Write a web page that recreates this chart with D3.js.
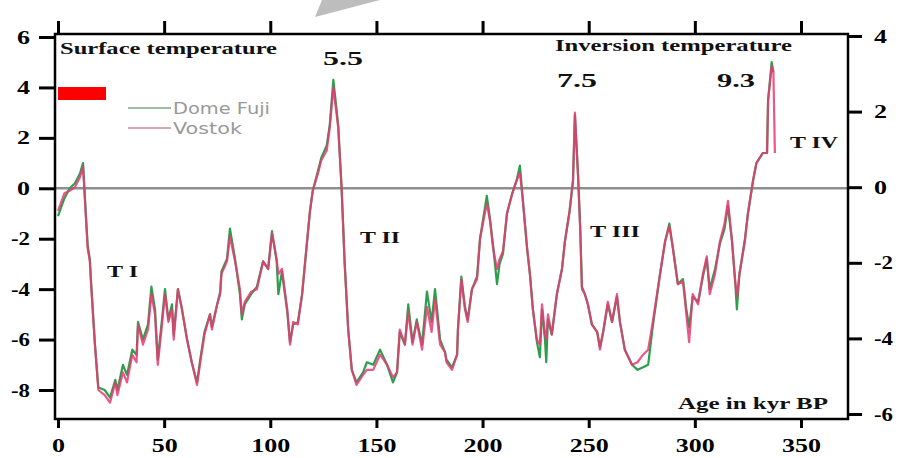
<!DOCTYPE html>
<html>
<head>
<meta charset="utf-8">
<script src="https://cdn.jsdelivr.net/npm/d3@7"></script>
<style>
  body { margin: 0; background: #fff; }
</style>
</head>
<body>
<div id="chart"></div>
<script>
// age in kyr BP, shared by both records
const ages = [0, 3, 5.5, 8, 10.4, 11.8, 12.7, 14, 15, 15.5, 17.4, 19, 22, 24.5, 27, 28, 30.6, 32.5, 35, 37,
  37.7, 40, 42.4, 44, 45.7, 47, 49, 50.4, 52, 53.7, 54.5, 56.5, 58.4, 60.8, 63, 65.5, 67, 69, 71.6, 72.5,
  75, 76.4, 77, 79.6, 81, 83.4, 85.7, 86.6, 88, 91, 93.7, 96.6, 99, 100.8, 103, 103.8, 105.5, 108, 109.3, 110.8,
  113, 115, 117, 118.7, 120, 122.5, 124, 126.6, 128, 129.7, 131, 132, 133.6, 135, 136.7, 138.4, 140.6, 143.7, 145.5, 148.5,
  151.7, 155, 157.8, 159.7, 161, 163.4, 165, 167, 169, 171.5, 173.8, 176, 177.6, 180, 182.3, 183, 185.6, 188, 188.4, 190,
  191.7, 193, 195, 197.4, 198.8, 202, 203.5, 205, 206.8, 208, 209.6, 211.5, 214, 216, 217.6, 219, 221, 222.3, 223.7, 225.6,
  227, 228, 229.4, 230, 230.8, 232.6, 235, 237.4, 238.8, 241, 242.6, 243.5, 245, 246, 246.8, 248.2, 249.6, 251.5, 254, 255.3,
  256.8, 259, 261, 263.3, 264.7, 267, 270.4, 273, 275.6, 278, 280, 283.6, 286, 288, 289.7, 292, 294.4, 296, 297.3, 299,
  301.5, 303.8, 305.6, 307, 309.5, 311.8, 314, 315.6, 317.5, 319, 319.8, 321, 323.6, 325, 327.4, 329, 332, 334, 334.5, 336.2,
  337, 337.7];

const vostok = [-0.9, -0.2, -0.1, 0.05, 0.45, 0.85, -0.5, -2.4, -2.9, -3.7, -6.2, -8.0, -8.2, -8.5, -7.7, -8.2, -7.3, -7.7, -6.6, -6.9,
  -5.4, -6.2, -5.6, -4.2, -5.0, -7.0, -5.4, -4.2, -5.3, -4.8, -6.0, -4.0, -4.8, -6.0, -6.9, -7.8, -6.9, -5.8, -5.0, -5.6,
  -4.6, -4.2, -3.4, -2.9, -1.9, -2.9, -4.0, -5.0, -4.5, -4.1, -4.0, -2.9, -3.2, -1.8, -2.8, -3.4, -3.2, -4.8, -6.2, -5.3,
  -5.4, -4.2, -2.4, -0.9, -0.1, 0.6, 1.1, 1.5, 2.4, 4.0, 3.1, 2.4, 0.0, -2.9, -5.6, -7.2, -7.8, -7.4, -7.2, -7.2,
  -6.6, -7.0, -7.5, -7.3, -5.6, -6.2, -4.9, -6.2, -5.3, -6.4, -4.7, -5.7, -4.4, -6.2, -6.5, -6.9, -7.2, -6.6, -5.6, -3.6,
  -4.8, -5.3, -4.0, -3.6, -2.0, -0.6, -1.3, -2.4, -3.2, -2.8, -2.5, -1.0, -0.2, 0.3, 0.6, -0.5, -2.4, -3.4, -4.8, -6.0,
  -6.2, -4.6, -5.8, -6.0, -5.0, -5.8, -4.2, -3.2, -2.1, -0.9, 0.3, 3.0, 0.45, -1.6, -4.0, -4.2, -4.6, -5.4, -5.7, -6.4,
  -5.7, -4.5, -5.3, -4.2, -5.3, -6.4, -7.0, -6.9, -6.6, -6.4, -5.4, -3.4, -2.1, -1.5, -2.4, -3.8, -3.7, -5.0, -6.1, -4.2,
  -4.6, -3.4, -2.7, -4.2, -3.4, -2.1, -1.4, -0.5, -2.1, -3.7, -4.3, -3.4, -2.1, -1.0, 0.3, 1.0, 1.4, 1.4, 3.5, 4.85,
  4.6, 1.4];

const domeFuji = [-1.1, -0.4, 0.0, 0.2, 0.6, 1.0, -0.4, -2.3, -2.8, -3.6, -6.2, -7.9, -8.0, -8.3, -7.6, -8.0, -7.0, -7.4, -6.4, -6.6,
  -5.3, -6.0, -5.4, -3.9, -4.8, -6.8, -5.2, -4.0, -5.2, -4.6, -5.8, -4.0, -4.8, -6.0, -6.9, -7.7, -6.8, -5.7, -5.0, -5.5,
  -4.6, -4.1, -3.3, -2.8, -1.6, -2.8, -4.2, -5.2, -4.6, -4.2, -3.9, -2.9, -3.2, -1.7, -2.9, -4.2, -3.3, -4.9, -6.1, -5.4,
  -5.3, -4.2, -2.4, -0.9, -0.1, 0.7, 1.2, 1.7, 2.5, 4.3, 3.3, 2.5, 0.0, -2.9, -5.6, -7.2, -7.7, -7.3, -6.9, -7.0,
  -6.4, -7.0, -7.7, -7.3, -5.7, -6.2, -4.6, -6.1, -5.2, -6.2, -4.1, -5.3, -4.0, -6.0, -6.5, -6.8, -7.1, -6.6, -5.6, -3.5,
  -4.7, -5.2, -4.0, -3.5, -2.0, -0.3, -1.2, -2.3, -3.8, -3.0, -2.6, -1.0, -0.2, 0.3, 0.9, -0.5, -2.4, -3.4, -4.8, -6.1,
  -6.7, -4.8, -6.0, -6.9, -5.2, -5.8, -4.2, -3.2, -2.1, -0.9, 0.3, 2.9, 0.5, -1.6, -3.9, -4.2, -4.6, -5.4, -5.7, -6.3,
  -5.7, -4.6, -5.3, -4.3, -5.3, -6.4, -7.0, -7.2, -7.1, -7.0, -5.6, -3.4, -2.1, -1.4, -2.4, -3.8, -3.6, -4.8, -5.5, -4.3,
  -4.5, -3.5, -2.8, -4.0, -3.2, -2.2, -1.6, -0.7, -2.1, -3.7, -4.8, -3.4, -2.0, -1.0, 0.3, 1.0, 1.4, 1.4, 3.5, 5.0,
  4.6, null];

const seriesNames = ["Dome Fuji", "Vostok"];
const seriesColors = ["#2f9e4c", "#e63a74"];

const ageTicks = [0, 50, 100, 150, 200, 250, 300, 350];
const surfaceTicks = [-8, -6, -4, -2, 0, 2, 4, 6];
const inversionTicks = [-6, -4, -2, 0, 2, 4];

const width = 904, height = 458;
const serif = "'Liberation Serif', 'Times New Roman', serif";

const svg = d3.select("#chart")
  .append("svg")
    .attr("width", width)
    .attr("height", height)
    .attr("viewBox", [0, 0, width, height]);

const x = d3.scaleLinear().domain([0, 350]).range([58, 801]);
const yL = d3.scaleLinear().domain([-8, 6]).range([390, 37]);
const yR = d3.scaleLinear().domain([-6, 4]).range([414, 36]);

// grey pointer shape cut by the top edge
svg.append("polygon")
    .attr("points", "315,17 322,0 380,0")
    .attr("fill", "#bdbdbd");

// zero line
svg.append("line")
    .attr("x1", 55).attr("x2", 848)
    .attr("y1", yL(0)).attr("y2", yL(0))
    .attr("stroke", "#8f8f8f")
    .attr("stroke-width", 2.5);

const line = d3.line()
    .defined(d => d != null)
    .x((d, i) => x(ages[i]))
    .y(d => yL(d));

[domeFuji, vostok].forEach((vals, k) => {
  svg.append("path")
      .datum(vals)
      .attr("fill", "none")
      .attr("stroke", seriesColors[k])
      .attr("stroke-width", 2.2)
      .attr("stroke-opacity", k == 1 ? 0.85 : 1)
      .attr("stroke-linejoin", "round")
      .attr("d", line);
});

// frame
svg.append("rect")
    .attr("x", 55).attr("y", 34)
    .attr("width", 848 - 55).attr("height", 419 - 34)
    .attr("fill", "none")
    .attr("stroke", "#000")
    .attr("stroke-width", 2.5);

// tick labels look horizontally stretched, so give each a fixed width per character
function styleAxis(g) {
  g.select(".domain").remove();
  g.selectAll("line").attr("stroke", "#000").attr("stroke-width", 3);
  g.attr("font-family", serif).attr("font-size", 19).attr("font-weight", "bold");
  g.selectAll("text")
      .attr("fill", "#000")
      .attr("textLength", function() {
        const s = this.textContent;
        return s.replace("-", "").length * 13 + (s.includes("-") ? 6 : 0);
      })
      .attr("lengthAdjust", "spacingAndGlyphs");
}

svg.append("g")
    .attr("transform", "translate(55,0)")
    .call(d3.axisLeft(yL).tickValues(surfaceTicks).tickSize(16).tickPadding(9).tickFormat(d => String(d)))
    .call(styleAxis);

svg.append("g")
    .attr("transform", "translate(848,0)")
    .call(d3.axisRight(yR).tickValues(inversionTicks).tickSize(14).tickPadding(12).tickFormat(d => String(d)))
    .call(styleAxis);

svg.append("g")
    .attr("transform", "translate(0,419)")
    .call(d3.axisBottom(x).tickValues(ageTicks).tickSize(9).tickPadding(11))
    .call(styleAxis);

svg.append("g")
    .attr("transform", "translate(0,34)")
    .call(d3.axisTop(x).tickValues(ageTicks).tickSize(13).tickFormat(""))
    .call(g => g.select(".domain").remove())
    .call(g => g.selectAll("line").attr("stroke", "#000").attr("stroke-width", 3));

// red marker
svg.append("rect")
    .attr("x", 58).attr("y", 87)
    .attr("width", 48).attr("height", 13)
    .attr("fill", "#ff0000");

// legend
const legendColors = ["#7fa585", "#c98a9c"];
seriesNames.forEach((name, i) => {
  const ly = 108 + i * 20;
  svg.append("line")
      .attr("x1", 128).attr("x2", 171)
      .attr("y1", ly).attr("y2", ly)
      .attr("stroke", legendColors[i])
      .attr("stroke-width", 1.5);
  svg.append("text")
      .attr("x", 173).attr("y", ly + 6)
      .attr("font-family", "'DejaVu Sans', sans-serif")
      .attr("font-size", 15)
      .attr("fill", "#999")
      .attr("textLength", i == 0 ? 97 : 69)
      .attr("lengthAdjust", "spacingAndGlyphs")
      .text(name);
});

// annotations
function note(txt, tx, ty, len, size) {
  svg.append("text")
      .attr("x", tx).attr("y", ty)
      .attr("font-family", serif)
      .attr("font-weight", "bold")
      .attr("font-size", size)
      .attr("fill", "#111")
      .attr("textLength", len)
      .attr("lengthAdjust", "spacingAndGlyphs")
      .text(txt);
}
note("Surface temperature", 60, 54, 217, 17);
note("Inversion temperature", 555, 51, 237, 17);
note("5.5", 323, 65, 40, 19);
note("7.5", 557, 87, 40, 19);
note("9.3", 717, 87, 38, 19);
note("T IV", 790, 148, 48, 17);
note("T II", 360, 243, 40, 17);
note("T III", 590, 237, 50, 17);
note("T I", 107, 277, 31, 17);
note("Age in kyr BP", 678, 409, 150, 17);
</script>
</body>
</html>
